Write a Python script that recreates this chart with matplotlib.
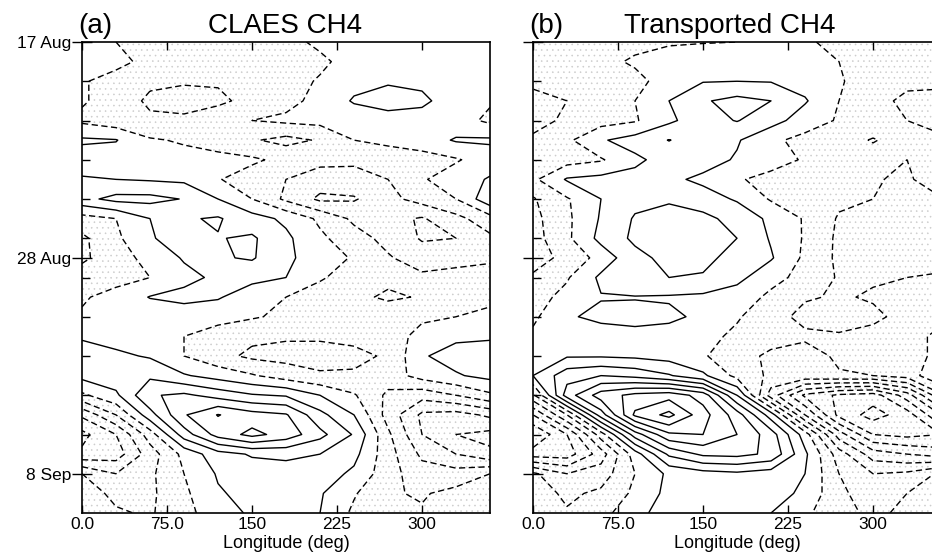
import numpy as np
import matplotlib.pyplot as plt

plt.rcParams['font.family'] = ['Liberation Sans', 'DejaVu Sans']
plt.rcParams['hatch.color'] = '#cccccc'
plt.rcParams['hatch.linewidth'] = 0.4
plt.rcParams['lines.dashed_pattern'] = [4.5, 2.5]

# longitude columns (deg) and days after 17 Aug (rows)
lon = [0, 30, 60, 90, 120, 150, 180, 210, 240, 270, 300, 330]
day = list(range(25))

claes_ch4 = [
    [0.3, 0.0, -0.5, -0.5, -0.5, -0.5, -0.3, 0.2, 0.5, 0.5, 0.4, 0.3],
    [0.5, 0.3, -0.3, -0.6, -0.6, -0.6, -0.5, -0.2, 0.4, 0.6, 0.6, 0.4],
    [0.1, -0.4, -0.8, -0.9, -0.9, -0.6, -0.4, 0.1, 0.7, 0.9, 0.8, 0.4],
    [0.1, -0.4, -1.2, -1.4, -1.2, -0.7, -0.3, 0.3, 1.1, 1.4, 1.2, 0.5],
    [-0.2, -0.6, -0.8, -0.8, -0.4, 0.0, 0.2, 0.3, 0.4, 0.6, 0.6, 0.4],
    [1.15, 1.05, 0.1, -0.1, -0.3, -0.9, -1.3, -0.9, 0.0, 0.3, 0.5, 1.1],
    [0.5, 0.5, 0.4, 0.3, 0.2, 0.15, -0.25, -0.7, -0.8, -0.7, -0.4, -0.1],
    [1.1, 1.0, 0.9, 0.8, 0.05, -0.4, -1.0, -1.5, -1.4, -1.0, -0.1, 0.5],
    [1.7, 2.3, 2.3, 1.95, 1.0, 0.0, -1.2, -2.2, -2.1, -1.3, -0.6, 0.0],
    [-0.4, 0.0, 1.0, 1.9, 2.1, 1.4, 0.8, -0.2, -1.2, -1.7, -2.1, -1.3],
    [-1.2, -0.2, 0.9, 1.5, 1.95, 2.15, 1.2, 0.2, -0.6, -1.3, -2.1, -2.0],
    [-1.2, -0.4, 0.3, 1.1, 1.9, 2.1, 1.2, 0.5, -0.1, -0.9, -1.5, -1.3],
    [-0.5, -0.3, 0.0, 0.7, 1.2, 1.3, 1.0, 0.1, -0.4, -0.7, -0.8, -0.7],
    [-0.1, 0.3, 1.05, 1.3, 1.1, 0.4, 0.0, -0.4, -0.7, -1.2, -0.9, -0.5],
    [0.1, 0.2, 0.3, 0.4, 0.3, 0.1, -0.2, -0.3, -0.3, -0.2, -0.1, 0.0],
    [0.9, 0.6, 0.3, 0.0, -0.4, -0.8, -0.9, -0.9, -0.8, -0.3, 0.2, 0.8],
    [1.4, 1.2, 0.9, 0.0, -0.7, -1.2, -1.3, -1.3, -1.2, -0.9, 0.9, 1.4],
    [1.3, 1.6, 1.8, 1.1, 0.6, 0.1, -0.5, -0.9, -0.9, -0.5, 0.4, 0.9],
    [-0.2, 0.8, 2.9, 3.2, 2.6, 2.1, 1.9, 1.0, 0.1, -1.2, -1.6, -1.0],
    [-2.8, -1.0, 1.6, 3.9, 5.05, 4.4, 4.1, 2.3, 1.0, -1.4, -3.2, -3.4],
    [-4.3, -3.0, -0.5, 2.5, 4.4, 5.3, 4.6, 3.3, 1.9, -0.8, -3.0, -4.0],
    [-3.8, -3.5, -1.5, 0.3, 1.6, 2.1, 2.2, 2.0, 1.3, -0.6, -2.2, -3.0],
    [-1.0, -2.0, -1.2, 0.0, 1.1, 1.5, 1.6, 1.5, 0.8, -0.6, -1.6, -1.6],
    [-0.6, -1.2, -1.2, -0.2, 0.9, 1.3, 1.3, 1.1, 0.1, -0.9, -1.1, -0.7],
    [-0.5, -0.9, -1.1, -0.4, 0.7, 1.1, 1.2, 1.0, -0.2, -1.0, -0.9, -0.5],
]

transported_ch4 = [
    [-0.4, -0.4, -0.3, -0.2, -0.1, -0.05, 0.0, 0.2, 0.1, -0.2, -0.4, -0.4],
    [-0.5, -0.4, -0.2, 0.1, 0.4, 0.6, 0.7, 0.6, 0.4, 0.0, -0.5, -0.6],
    [-0.8, -0.7, -0.4, -0.2, 0.3, 0.95, 1.0, 0.95, 0.6, 0.1, -0.5, -0.8],
    [-1.3, -1.0, -0.5, 0.0, 1.0, 1.9, 2.3, 2.0, 1.1, 0.0, -0.7, -1.2],
    [-1.2, -0.9, -0.4, -0.1, 0.8, 1.6, 2.05, 1.4, 0.5, -0.1, -0.6, -1.0],
    [-0.9, -0.2, 0.9, 1.4, 2.03, 1.5, 1.1, 0.2, -0.3, -0.7, -1.05, -0.7],
    [-0.6, -0.4, -0.1, 0.8, 1.4, 1.4, 0.9, 0.4, -0.1, -0.5, -0.7, -1.0],
    [-0.2, 1.1, 1.3, 1.3, 1.2, 0.8, 0.1, -0.3, -0.6, -0.8, -0.9, -1.2],
    [-1.1, -0.1, 1.0, 1.7, 1.9, 1.4, 0.9, -0.1, -0.5, -0.8, -1.0, -1.1],
    [-1.3, -0.2, 1.1, 2.1, 2.3, 2.3, 1.6, 0.8, -0.1, -1.1, -1.2, -1.1],
    [-1.4, -0.2, 1.3, 2.2, 2.4, 2.4, 2.0, 0.9, -0.1, -1.2, -1.3, -1.2],
    [-1.3, -0.8, 0.4, 1.7, 2.3, 2.3, 1.6, 1.1, -0.2, -1.2, -1.3, -1.2],
    [-0.9, -0.1, 1.2, 1.9, 2.0, 1.9, 1.3, 0.3, -0.3, -1.1, -1.1, -1.0],
    [-0.4, 0.3, 0.95, 0.95, 0.9, 0.8, 0.5, -0.2, -0.9, -1.1, -0.9, -0.7],
    [-0.2, 0.9, 1.2, 1.3, 1.2, 0.8, 0.1, -0.6, -1.3, -1.4, -1.2, -0.7],
    [0.2, 0.5, 0.6, 0.7, 0.6, 0.3, -0.2, -0.6, -0.8, -0.9, -0.7, -0.3],
    [0.4, 0.9, 0.9, 0.8, 0.6, 0.1, -0.6, -1.2, -1.5, -0.8, -0.8, -0.6],
    [1.0, 2.6, 3.0, 2.7, 2.1, 1.2, -0.3, -1.2, -1.3, -1.1, -1.0, -0.6],
    [-1.2, 3.5, 5.5, 6.3, 6.6, 5.6, 2.0, -2.5, -5.2, -6.2, -6.5, -4.5],
    [-4.0, -1.0, 3.5, 7.2, 8.3, 6.4, 4.5, 1.5, -3.0, -6.3, -7.4, -6.5],
    [-6.0, -4.0, -0.5, 3.5, 5.8, 6.0, 5.0, 3.5, 0.5, -3.5, -6.0, -6.3],
    [-4.5, -4.5, -2.5, 0.5, 3.2, 4.2, 4.3, 3.8, 1.2, -1.5, -3.5, -4.0],
    [-0.8, -2.0, -1.5, 0.0, 1.2, 1.6, 1.8, 1.5, 1.0, -1.0, -2.0, -1.8],
    [-0.5, -1.2, -0.8, 0.2, 1.3, 1.6, 1.6, 1.4, 0.8, -0.8, -1.5, -1.0],
    [-0.4, -0.9, -0.4, 0.8, 1.3, 1.3, 1.3, 1.0, 0.2, -0.7, -1.2, -0.8],
]

date_ticks = [0, 11, 22]
date_labels = ['17 Aug', '28 Aug', '8 Sep']
minor_days = [2, 4, 6, 8, 10, 12, 14, 16, 18, 20]
lon_ticks = [0, 75, 150, 225, 300]
lon_labels = ['0.0', '75.0', '150', '225', '300']

W, H = 932, 560
fig = plt.figure(figsize=(W / 100, H / 100), dpi=100)


def panel(left_px, field, tag, title, title_x, show_dates):
    ax = fig.add_axes([left_px / W, 1 - 513 / H, 408 / W, 471 / H])
    z = np.array(field)
    z = np.hstack([z, z[:, :1]])   # periodic in longitude
    x = np.array(lon + [360])
    ax.contourf(x, day, z, levels=[-99, 0], colors='none', hatches=['...'])
    ax.contour(x, day, z, levels=np.arange(-9, 1), colors='k',
               linewidths=1.0, linestyles='dashed')
    ax.contour(x, day, z, levels=np.arange(1, 10), colors='k',
               linewidths=1.0, linestyles='solid')
    ax.set_xlim(0, 360)
    ax.set_ylim(24, 0)
    ax.set_xticks(lon_ticks)
    ax.set_xticklabels(lon_labels, fontsize=12.5)
    ax.tick_params(axis='x', direction='in', top=True, length=6, width=1, pad=3)
    ax.set_yticks(date_ticks)
    ax.set_yticks(minor_days, minor=True)
    if show_dates:
        ax.set_yticklabels(date_labels, fontsize=12.5)
    else:
        ax.set_yticklabels([])
    ax.tick_params(axis='y', which='major', direction='inout', length=14, width=1, pad=1)
    ax.tick_params(axis='y', which='minor', direction='in', length=5.5, width=1)
    for s in ax.spines.values():
        s.set_linewidth(1.2)
    ax.set_xlabel('Longitude (deg)', fontsize=13, labelpad=2)
    fig.text((left_px - 4) / W, 1 - 33 / H, tag, fontsize=20, va='baseline')
    fig.text(title_x / W, 1 - 33 / H, title, fontsize=20, va='baseline', ha='center')
    return ax


panel(82, claes_ch4, '(a)', 'CLAES CH4', 285, True)
panel(533, transported_ch4, '(b)', 'Transported CH4', 730, False)

fig.savefig('out.png', dpi=100)
